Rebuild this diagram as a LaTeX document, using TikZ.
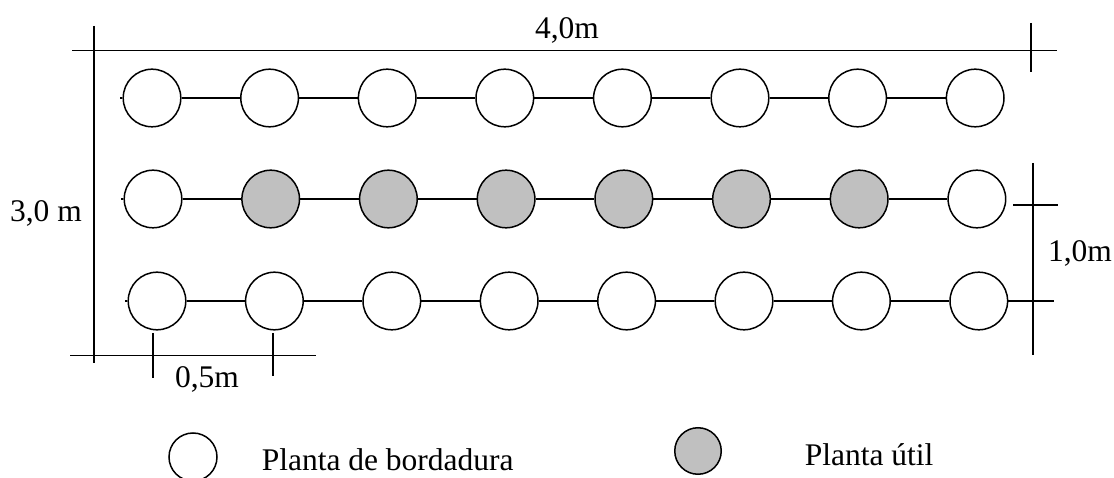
\documentclass[tikz,border=0pt]{standalone}
\usepackage{fontspec}
\setmainfont{Liberation Serif}
\definecolor{plantgray}{HTML}{C0C0C0}
\begin{document}
\begin{tikzpicture}[x=1pt,y=-1pt,line width=1.5pt,
  plant/.style={circle,draw,minimum size=57.6pt,inner sep=0pt},
  border/.style={plant,fill=white},
  useful/.style={plant,fill=plantgray},
  lbl/.style={font=\fontsize{31.5}{37}\selectfont,inner sep=0pt,anchor=base}]
\useasboundingbox (0,0) rectangle (1114,478);
\clip (0,0) rectangle (1114,478);
% rows of plants
\foreach \i in {1,...,8}{
  \node[border] (a\i) at ({152+(\i-1)*117.6},98) {};
  \node[border] (c\i) at ({157+(\i-1)*117.4},301) {};
}
\foreach \i/\s in {1/border,2/useful,3/useful,4/useful,5/useful,6/useful,7/useful,8/border}{
  \node[\s] (b\i) at ({153+(\i-1)*117.7},199) {};
}
\foreach \i [evaluate=\i as \j using int(\i+1)] in {1,...,7}{
  \draw (a\i) -- (a\j);
  \draw (b\i) -- (b\j);
  \draw (c\i) -- (c\j);
}
% small stubs on the left
\coordinate (a0) at (120,98);
\coordinate (b0) at (121,199);
\coordinate (c0) at (125,301);
\draw (a0) -- (a1);
\draw (b0) -- (b1);
\draw (c0) -- (c1);
% top dimension 4,0m
\coordinate (tl) at (72,50.5);
\coordinate (tr) at (1057,50.5);
\draw (tl) -- (tr);
\coordinate (rt1) at (1031,23);
\coordinate (rt2) at (1031,72);
\draw (rt1) -- (rt2);
\node[lbl] (l40) at (567,39) {4,0m};
% left dimension 3,0 m
\coordinate (lv1) at (94,26);
\coordinate (lv2) at (94,363);
\draw (lv1) -- (lv2);
\node[lbl] (l30) at (46,222) {3,0 m};
% bottom dimension 0,5m
\coordinate (bl) at (70,355.5);
\coordinate (br) at (316,355.5);
\draw (bl) -- (br);
\coordinate (t1a) at (153,333);
\coordinate (t1b) at (153,378);
\coordinate (t2a) at (273,333);
\coordinate (t2b) at (273,376);
\draw (t1a) -- (t1b);
\draw (t2a) -- (t2b);
\node[lbl] (l05) at (207,387) {0,5m};
% right dimension 1,0m
\coordinate (rv1) at (1033,163);
\coordinate (rv2) at (1033,355);
\draw (rv1) -- (rv2);
\coordinate (rh1) at (1013,205);
\coordinate (rh2) at (1058,205);
\draw (rh1) -- (rh2);
\coordinate (rh3) at (1054,301);
\draw (c8) -- (rh3);
\node[lbl] (l10) at (1080,262) {1,0m};
% legend
\node[plant,fill=white,minimum size=48pt] (lg1) at (193,457) {};
\node[lbl,anchor=base west] (lt1) at (261,470) {Planta de bordadura};
\node[plant,fill=plantgray,minimum size=46.5pt] (lg2) at (698,451) {};
\node[lbl,anchor=base west] (lt2) at (804,465) {Planta útil};
\end{tikzpicture}
\end{document}
